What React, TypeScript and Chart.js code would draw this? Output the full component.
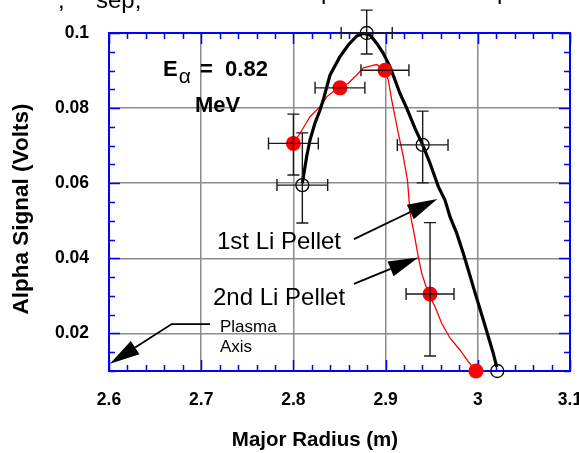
import React, { useEffect, useRef } from "react";
import { Chart, registerables } from "chart.js";

Chart.register(...registerables);

const FONT = '"Liberation Sans", Arial, Helvetica, sans-serif';

// axis ticks
const xTicks = [2.6, 2.7, 2.8, 2.9, 3.0, 3.1];
const xTickLabels = ["2.6", "2.7", "2.8", "2.9", "3", "3.1"];
const yTicks = [0.02, 0.04, 0.06, 0.08, 0.1];
const yTickLabels = ["0.02", "0.04", "0.06", "0.08", "0.1"];

// 1st Li pellet – continuous profile (black)
const pellet1CurveX = [2.8097, 2.8144, 2.818, 2.8234, 2.8289, 2.8324, 2.8397, 2.8505, 2.8595, 2.8687, 2.8758, 2.8831, 2.8903, 2.8975, 2.9048, 2.9102, 2.9156, 2.9229, 2.9319, 2.9402, 2.9482, 2.9572, 2.9644, 2.9698, 2.9771, 2.9843, 2.9897, 2.9951, 3.0005, 3.006, 3.0114, 3.0168, 3.0205];
const pellet1CurveY = [0.0600, 0.0671, 0.0715, 0.076, 0.0795, 0.0822, 0.0888, 0.0937, 0.0968, 0.0992, 0.0999, 0.0995, 0.0973, 0.0946, 0.091, 0.0875, 0.0839, 0.08, 0.0746, 0.0702, 0.0653, 0.0591, 0.0555, 0.0511, 0.0467, 0.0413, 0.0369, 0.0324, 0.028, 0.0236, 0.0191, 0.0147, 0.0111];

// 2nd Li pellet – continuous profile (red)
const pellet2CurveX = [2.7999, 2.8072, 2.8126, 2.818, 2.8253, 2.8307, 2.8361, 2.8433, 2.8505, 2.8595, 2.8687, 2.8758, 2.8831, 2.8903, 2.8993, 2.9029, 2.9066, 2.9102, 2.9138, 2.9192, 2.9238, 2.9265, 2.9302, 2.9355, 2.9392, 2.9463, 2.9536, 2.9608, 2.9698, 2.9807, 2.9897, 2.997];
const pellet2CurveY = [0.0706, 0.0733, 0.0755, 0.0777, 0.0795, 0.0808, 0.083, 0.0844, 0.0854, 0.0866, 0.0888, 0.0907, 0.0912, 0.0916, 0.0901, 0.0875, 0.0822, 0.0777, 0.0733, 0.0671, 0.0606, 0.0521, 0.0475, 0.0404, 0.036, 0.0307, 0.0271, 0.0227, 0.0188, 0.0156, 0.0125, 0.0103];

// 1st pellet measured points (open circles)
const pellet1X = [2.8097, 2.8795, 2.9402, 3.0211];
const pellet1Y = [0.0595, 0.1, 0.0702, 0.01];
const pellet1XErr = [0.0275, 0.0277, 0.0275, 0];
const pellet1YLow = [0.0494, 0.0944, 0.0601, 0.01];
const pellet1YHigh = [0.0734, 0.1061, 0.0792, 0.01];

// 2nd pellet measured points (filled red)
const pellet2X = [2.8, 2.8505, 2.8993, 2.9482, 2.998];
const pellet2Y = [0.0706, 0.0854, 0.0901, 0.0305, 0.01];
const pellet2XErr = [0.027, 0.027, 0.026, 0.026, 0];
const pellet2YLow = [0.0622, 0.0854, 0.0901, 0.014, 0.01];
const pellet2YHigh = [0.0784, 0.0854, 0.0901, 0.0495, 0.01];

// annotation arrows (data coordinates, last point is the tip)
const arrowPlasma = [[2.7095, 0.0225], [2.668, 0.0225], [2.601, 0.0119]];
const arrowFirst = [[2.8657, 0.0451], [2.9561, 0.0558]];
const arrowSecond = [[2.8657, 0.0332], [2.9355, 0.0402]];

const pts = (xs: number[], ys: number[]) => xs.map((x, i) => ({ x, y: ys[i] }));

const decor = {
  id: "decor",
  beforeDatasetsDraw(chart: any) {
    const { ctx, chartArea: a, scales } = chart;
    const xs = scales.x, ys = scales.y;
    ctx.save();
    ctx.strokeStyle = "#0000ff";
    ctx.lineWidth = 1.5;
    ctx.beginPath();
    for (let i = 0; i <= 25; i++) {
      const v = 2.6 + i * 0.02;
      const p = Math.round(xs.getPixelForValue(v)) + 0.5;
      const len = i % 5 === 0 ? 11 : 6;
      ctx.moveTo(p, a.bottom); ctx.lineTo(p, a.bottom - len);
      ctx.moveTo(p, a.top); ctx.lineTo(p, a.top + len);
    }
    for (let i = 0; i <= 18; i++) {
      const v = 0.01 + i * 0.005;
      const p = Math.round(ys.getPixelForValue(v)) + 0.5;
      const len = i % 4 === 2 ? 11 : 6;
      ctx.moveTo(a.left, p); ctx.lineTo(a.left + len, p);
      ctx.moveTo(a.right, p); ctx.lineTo(a.right - len, p);
    }
    ctx.stroke();
    ctx.lineWidth = 2;
    ctx.strokeRect(a.left, a.top, a.right - a.left, a.bottom - a.top);
    ctx.restore();
  },
  afterDatasetsDraw(chart: any) {
    const { ctx, scales } = chart;
    const xs = scales.x, ys = scales.y;
    ctx.save();
    ctx.strokeStyle = "#1a1a1a";
    ctx.lineWidth = 1.4;
    const cap = 6;
    const drawSet = (X: number[], Y: number[], XE: number[], YL: number[], YH: number[]) => {
      X.forEach((xv, i) => {
        const cx = xs.getPixelForValue(xv);
        const cy = ys.getPixelForValue(Y[i]);
        ctx.beginPath();
        if (XE[i] > 0) {
          const l = xs.getPixelForValue(xv - XE[i]);
          const r = xs.getPixelForValue(xv + XE[i]);
          ctx.moveTo(l, cy); ctx.lineTo(r, cy);
          ctx.moveTo(l, cy - cap); ctx.lineTo(l, cy + cap);
          ctx.moveTo(r, cy - cap); ctx.lineTo(r, cy + cap);
        }
        if (YH[i] - YL[i] > 0) {
          const t = ys.getPixelForValue(YH[i]);
          const b = ys.getPixelForValue(YL[i]);
          ctx.moveTo(cx, t); ctx.lineTo(cx, b);
          ctx.moveTo(cx - cap, t); ctx.lineTo(cx + cap, t);
          ctx.moveTo(cx - cap, b); ctx.lineTo(cx + cap, b);
        }
        ctx.stroke();
      });
    };
    drawSet(pellet1X, pellet1Y, pellet1XErr, pellet1YLow, pellet1YHigh);
    drawSet(pellet2X, pellet2Y, pellet2XErr, pellet2YLow, pellet2YHigh);
    ctx.restore();
  },
  afterDraw(chart: any) {
    const { ctx, scales } = chart;
    const xs = scales.x, ys = scales.y;
    const P = (p: number[]) => [xs.getPixelForValue(p[0]), ys.getPixelForValue(p[1])];
    ctx.save();
    // arrows
    ctx.strokeStyle = "#000";
    ctx.fillStyle = "#000";
    ctx.lineWidth = 1.8;
    [arrowPlasma, arrowFirst, arrowSecond].forEach((arr) => {
      const q = arr.map(P);
      const n = q.length;
      const [tx, ty] = q[n - 1];
      const [px, py] = q[n - 2];
      const d = Math.hypot(tx - px, ty - py);
      const ux = (tx - px) / d, uy = (ty - py) / d;
      const hl = 30, hw = 8;
      const bx = tx - ux * hl, by = ty - uy * hl;
      ctx.beginPath();
      ctx.moveTo(q[0][0], q[0][1]);
      for (let i = 1; i < n - 1; i++) ctx.lineTo(q[i][0], q[i][1]);
      ctx.lineTo(bx, by);
      ctx.stroke();
      ctx.beginPath();
      ctx.moveTo(tx, ty);
      ctx.lineTo(bx - uy * hw, by + ux * hw);
      ctx.lineTo(bx + uy * hw, by - ux * hw);
      ctx.closePath();
      ctx.fill();
    });
    // labels inside plot
    ctx.textBaseline = "alphabetic";
    ctx.textAlign = "left";
    ctx.fillStyle = "#000";
    let p = P([2.7171, 0.04249]);
    ctx.font = `24px ${FONT}`;
    ctx.fillText("1st Li Pellet", p[0], p[1]);
    p = P([2.7128, 0.02758]);
    ctx.fillText("2nd Li Pellet", p[0], p[1]);
    ctx.font = `17px ${FONT}`;
    p = P([2.7204, 0.02047]);
    ctx.fillText("Plasma", p[0], p[1]);
    p = P([2.7204, 0.01514]);
    ctx.fillText("Axis", p[0], p[1]);
    // E_alpha
    p = P([2.6586, 0.08855]);
    ctx.font = `bold 22px ${FONT}`;
    ctx.fillText("E", p[0], p[1]);
    const ew = ctx.measureText("E").width;
    ctx.font = `21px ${FONT}`;
    ctx.fillText("\u03b1", p[0] + ew + 1, p[1] + 7);
    ctx.font = `bold 22px ${FONT}`;
    ctx.fillText("=  0.82", p[0] + 37, p[1]);
    p = P([2.6933, 0.07896]);
    ctx.fillText("MeV", p[0], p[1]);
    // axis titles
    ctx.font = `bold 20.5px ${FONT}`;
    ctx.textAlign = "center";
    ctx.textBaseline = "middle";
    ctx.fillText("Major Radius (m)", 315, 440);
    ctx.save();
    ctx.translate(22, 209);
    ctx.rotate(-Math.PI / 2);
    ctx.font = `bold 22.5px ${FONT}`;
    ctx.fillText("Alpha Signal (Volts)", 0, 0);
    ctx.restore();
    // clipped heading fragments at top edge
    ctx.textAlign = "left";
    ctx.textBaseline = "alphabetic";
    ctx.font = `24px ${FONT}`;
    ctx.fillText(",", 58, 8);
    ctx.fillText("sep,", 96, 8);
    ctx.fillText("p", 321, -1);
    ctx.fillText("p", 497, -1);
    ctx.restore();
  },
};

export default function App() {
  const ref = useRef<HTMLCanvasElement>(null);
  useEffect(() => {
    const canvas = ref.current!;
    const chart = new Chart(canvas, {
      type: "scatter",
      data: {
        datasets: [
          {
            label: "1st Li Pellet profile",
            data: pts(pellet1CurveX, pellet1CurveY),
            showLine: true,
            borderColor: "#000",
            borderWidth: 3.2,
            pointRadius: 0,
            tension: 0,
            clip: false,
            order: 3,
          },
          {
            label: "2nd Li Pellet profile",
            data: pts(pellet2CurveX, pellet2CurveY),
            showLine: true,
            borderColor: "#ff0000",
            borderWidth: 1.3,
            pointRadius: 0,
            tension: 0,
            clip: false,
            order: 4,
          },
          {
            label: "2nd Li Pellet",
            data: pts(pellet2X, pellet2Y),
            backgroundColor: "#ff0000",
            borderColor: "#ff0000",
            borderWidth: 0,
            pointRadius: 7.5,
            clip: false,
            order: 2,
          },
          {
            label: "1st Li Pellet",
            data: pts(pellet1X, pellet1Y),
            backgroundColor: "rgba(0,0,0,0)",
            borderColor: "#000",
            borderWidth: 1.3,
            pointRadius: 6.5,
            clip: false,
            order: 1,
          },
        ],
      },
      options: {
        animation: false,
        responsive: false,
        devicePixelRatio: 1,
        layout: { padding: { left: 0, top: 33, right: 9, bottom: 0 } },
        plugins: { legend: { display: false }, tooltip: { enabled: false } },
        events: [],
        scales: {
          x: {
            type: "linear",
            min: 2.6,
            max: 3.1,
            afterFit: (s: any) => { s.height = 82; s.paddingLeft = 0; s.paddingRight = 0; },
            afterBuildTicks: (s: any) => { s.ticks = xTicks.map((v) => ({ value: v })); },
            grid: { color: "#8c8c8c", lineWidth: 1.5, drawTicks: false },
            border: { display: false },
            ticks: {
              padding: 19,
              color: "#000",
              font: { family: FONT, size: 17.5, weight: "bold" },
              maxRotation: 0,
              autoSkip: false,
              callback: (v: any) => xTickLabels[xTicks.findIndex((t) => Math.abs(t - v) < 1e-6)] ?? "",
            },
          },
          y: {
            type: "linear",
            min: 0.01,
            max: 0.1,
            afterFit: (s: any) => { s.width = 109; s.paddingTop = 0; s.paddingBottom = 0; },
            afterBuildTicks: (s: any) => { s.ticks = yTicks.map((v) => ({ value: v })); },
            grid: { color: "#8c8c8c", lineWidth: 1.5, drawTicks: false },
            border: { display: false },
            ticks: {
              padding: 20,
              color: "#000",
              font: { family: FONT, size: 17.5, weight: "bold" },
              autoSkip: false,
              callback: (v: any) => yTickLabels[yTicks.findIndex((t) => Math.abs(t - v) < 1e-6)] ?? "",
            },
          },
        },
      },
      plugins: [decor],
    } as any);
    return () => chart.destroy();
  }, []);
  return (
    <div style={{ position: "absolute", left: 0, top: 0, width: 579, height: 453, background: "#fff" }}>
      <canvas ref={ref} width={579} height={453} style={{ display: "block", width: 579, height: 453 }} />
    </div>
  );
}
